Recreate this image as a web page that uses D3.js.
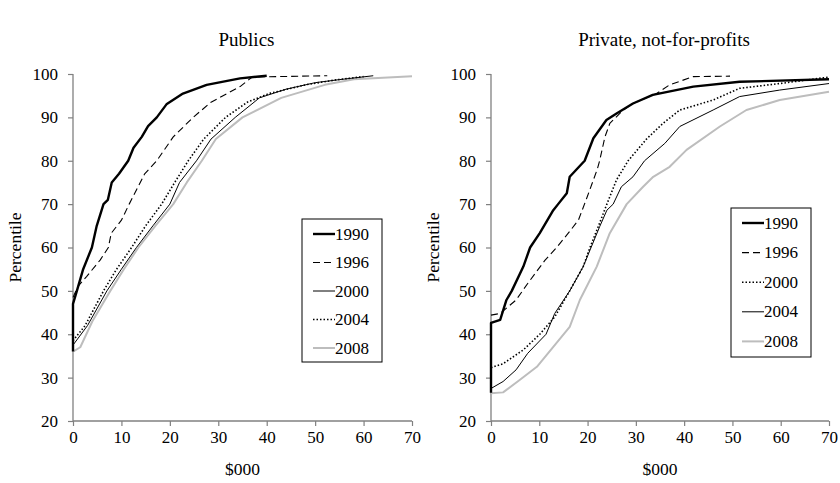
<!DOCTYPE html>
<html>
<head>
<meta charset="utf-8">
<script src="https://cdn.jsdelivr.net/npm/d3@7"></script>
<style>
    body { margin: 0; background: #fff; }
    text { font-family: 'Liberation Serif', 'Times New Roman', serif; fill: #000; }
</style>
</head>
<body>
<div id="chart"></div>
<script>
// ************* data *************
const years = ['1990', '1996', '2000', '2004', '2008'];
const xTicks = [0, 10, 20, 30, 40, 50, 60, 70];
const yTicks = [20, 30, 40, 50, 60, 70, 80, 90, 100];
const panelTitles = ['Publics', 'Private, not-for-profits'];

// [$000, percentile]
const pub1990 = [[0, 36], [0, 47], [0.8, 50], [2.1, 55], [3.9, 60], [4.9, 65], [6.3, 70], [7.2, 71], [8, 75], [9.5, 77], [11.4, 80], [12.5, 83],
    [14.2, 85.5], [15.5, 88], [17.3, 90], [19.3, 93], [22.7, 95.5], [27.6, 97.5], [34.5, 99], [40, 99.6]];
const pub1996 = [[0, 48.5], [1, 51], [2.8, 53.3], [5.6, 57.1], [7.3, 60], [7.9, 63.3], [10, 66.3], [11.6, 70], [14.8, 77], [17.3, 80],
    [20.7, 85.5], [24.8, 90], [28.5, 93.5], [34.5, 97.1], [37, 99.3], [52.5, 99.6]];
const pub2000 = [[0, 37.5], [3, 42], [7, 50], [10, 55], [13.1, 60], [16.5, 65], [20, 70], [22, 75], [25.5, 80], [28.5, 85], [33.5, 90],
    [38.5, 94.5], [44, 96.5], [50, 98], [55, 98.7], [62, 99.6]];
const pub2004 = [[0, 38.5], [2.5, 42], [6.3, 50], [9, 55], [12.1, 60], [15, 65], [18.3, 70], [21, 75], [23.8, 80], [27, 85], [31.5, 90],
    [36, 93.5], [40.5, 95.5], [48, 97.5], [54, 98.6], [60, 99.4]];
const pub2008 = [[0, 36], [1.5, 37], [4, 43], [7.7, 50], [10.5, 55], [13.5, 60], [17, 65], [20.7, 70], [23.5, 75], [26.6, 80], [29.5, 85],
    [35, 90], [43, 94.5], [52, 97.5], [58, 98.8], [70, 99.5]];

const priv1990 = [[0, 26.5], [0, 42.6], [1.9, 43.3], [3.2, 47.9], [4.3, 50], [6.7, 55.6], [8.1, 60], [10.1, 63.3], [12.9, 68.6], [13.9, 70],
    [15.7, 72.5], [16.3, 76.3], [19.4, 80], [21.2, 85.2], [23.9, 89.4], [26, 90.9], [29.4, 93.2], [33.5, 95.2], [41.9, 97.1], [51.5, 98.2], [70, 98.8]];
const priv1996 = [[0, 44.4], [1.9, 44.8], [5.2, 47.9], [7.6, 51.7], [11.2, 57.1], [13.6, 60], [16, 63.3], [18.1, 66.3], [19.8, 71.3], [22, 78],
    [22.5, 80], [23.6, 85.5], [24.6, 88.6], [27.4, 91.7], [29.4, 93.2], [34.3, 95.5], [37, 97.5], [41.9, 99.4], [49.5, 99.5]];
const priv2000 = [[0, 32.3], [2.5, 33.2], [6.7, 36.4], [10.1, 40], [13.2, 44], [16.3, 50], [19.1, 55.6], [20.5, 60], [22.2, 64.8], [24, 70],
    [26, 75.6], [28.4, 80], [32.2, 85], [35.6, 88.6], [39.1, 91.7], [46, 94], [51.5, 96.7], [59.8, 97.8], [70, 99.3]];
const priv2004 = [[0, 27.5], [2.5, 29.1], [5.2, 31.8], [7.6, 35.6], [11.4, 40], [13.2, 44.8], [16.3, 50], [19.1, 55.6], [20.5, 59.4], [22.5, 64.8],
    [24, 68.6], [25.3, 70], [27, 74], [29.4, 76.3], [31.8, 80], [36, 84], [39.1, 87.9], [46, 91.7], [51.5, 94.8], [59.8, 96.3], [70, 97.8]];
const priv2008 = [[0, 26.4], [2.5, 26.6], [6, 29.5], [9.5, 32.5], [12.9, 37.1], [16.3, 41.7], [18.4, 47.9], [21.9, 55.6], [24.6, 63.3], [28.1, 70],
    [31.5, 74], [33.6, 76.3], [37, 78.6], [40.5, 82.5], [47.4, 87.9], [52.9, 91.7], [59.8, 94], [70, 95.9]];

// ************* styles *************
const fontFamily = "'Liberation Serif', 'Times New Roman', serif";
const lineStyles = {
    thick: { stroke: '#000', width: 2.4, dash: null },
    dashed: { stroke: '#000', width: 1.1, dash: '7,4' },
    thin: { stroke: '#000', width: 1, dash: null },
    dotted: { stroke: '#000', width: 1.6, dash: '1.5,2' },
    gray: { stroke: '#bdbdbd', width: 2, dash: null }
};

const panels = [
    {
        title: panelTitles[0],
        series: [pub1990, pub1996, pub2000, pub2004, pub2008],
        styles: ['thick', 'dashed', 'thin', 'dotted', 'gray'],
        x0: 73, x1: 412,
        legend: { x: 302, y: 219, w: 80, h: 143, row: 28.5 }
    },
    {
        title: panelTitles[1],
        series: [priv1990, priv1996, priv2000, priv2004, priv2008],
        styles: ['thick', 'dashed', 'dotted', 'thin', 'gray'],
        x0: 491, x1: 829,
        legend: { x: 731, y: 208, w: 80, h: 149, row: 29.6 }
    }
];

const width = 840;
const height = 483;
const yTop = 74;
const yBottom = 421;
const axisColor = '#808080';

const svg = d3.select('#chart').append('svg')
    .attr('width', width)
    .attr('height', height)
    .attr('font-family', fontFamily);

panels.forEach((p) => {
    const xScale = d3.scaleLinear().domain([0, 70]).range([p.x0, p.x1]);
    const yScale = d3.scaleLinear().domain([20, 100]).range([yBottom, yTop]);
    const g = svg.append('g');

    // title
    g.append('text')
        .attr('x', (p.x0 + p.x1) / 2 + 4)
        .attr('y', 46)
        .attr('text-anchor', 'middle')
        .style('font-size', '19px')
        .text(p.title);

    // axes
    const yAxis = d3.axisLeft(yScale).tickValues(yTicks).tickSize(5).tickPadding(10);
    const xAxis = d3.axisBottom(xScale).tickValues(xTicks).tickSize(5).tickPadding(5);
    const yg = g.append('g').attr('transform', `translate(${p.x0},0)`).call(yAxis);
    const xg = g.append('g').attr('transform', `translate(0,${yBottom})`).call(xAxis);
    [yg, xg].forEach((a) => {
        a.attr('font-family', fontFamily);
        a.select('.domain').remove();
        a.selectAll('.tick line').attr('stroke', axisColor).attr('stroke-width', 1.2);
        a.selectAll('.tick text').style('font-size', '17px').attr('fill', '#000');
    });
    g.append('line')
        .attr('x1', p.x0).attr('x2', p.x0)
        .attr('y1', yTop).attr('y2', yBottom)
        .attr('stroke', axisColor).attr('stroke-width', 1.3);
    g.append('line')
        .attr('x1', p.x0).attr('x2', p.x1)
        .attr('y1', yBottom).attr('y2', yBottom)
        .attr('stroke', axisColor).attr('stroke-width', 1.3);

    // axis titles
    g.append('text')
        .attr('transform', `translate(${p.x0 - 52},${(yTop + yBottom) / 2}) rotate(-90)`)
        .attr('text-anchor', 'middle')
        .style('font-size', '17.5px')
        .text('Percentile');
    g.append('text')
        .attr('x', (p.x0 + p.x1) / 2)
        .attr('y', 475)
        .attr('text-anchor', 'middle')
        .style('font-size', '17.5px')
        .text('$000');

    // lines, drawn gray first so black sits on top
    const line = d3.line()
        .x((d) => xScale(d[0]))
        .y((d) => yScale(d[1]));
    const order = [4, 3, 2, 1, 0];
    order.forEach((i) => {
        const st = lineStyles[p.styles[i]];
        g.append('path')
            .attr('d', line(p.series[i]))
            .attr('fill', 'none')
            .attr('stroke', st.stroke)
            .attr('stroke-width', st.width)
            .attr('stroke-dasharray', st.dash)
            .attr('stroke-linejoin', 'round');
    });

    // legend
    const lg = g.append('g').attr('transform', `translate(${p.legend.x},${p.legend.y})`);
    lg.append('rect')
        .attr('width', p.legend.w)
        .attr('height', p.legend.h)
        .attr('fill', '#fff')
        .attr('stroke', '#000')
        .attr('stroke-width', 1);
    years.forEach((yr, i) => {
        const st = lineStyles[p.styles[i]];
        const cy = 15 + i * p.legend.row;
        lg.append('line')
            .attr('x1', 11).attr('x2', 33)
            .attr('y1', cy).attr('y2', cy)
            .attr('stroke', st.stroke)
            .attr('stroke-width', st.width)
            .attr('stroke-dasharray', st.dash);
        lg.append('text')
            .attr('x', 33)
            .attr('y', cy + 5.5)
            .style('font-size', '17px')
            .text(yr);
    });
});
</script>
</body>
</html>
